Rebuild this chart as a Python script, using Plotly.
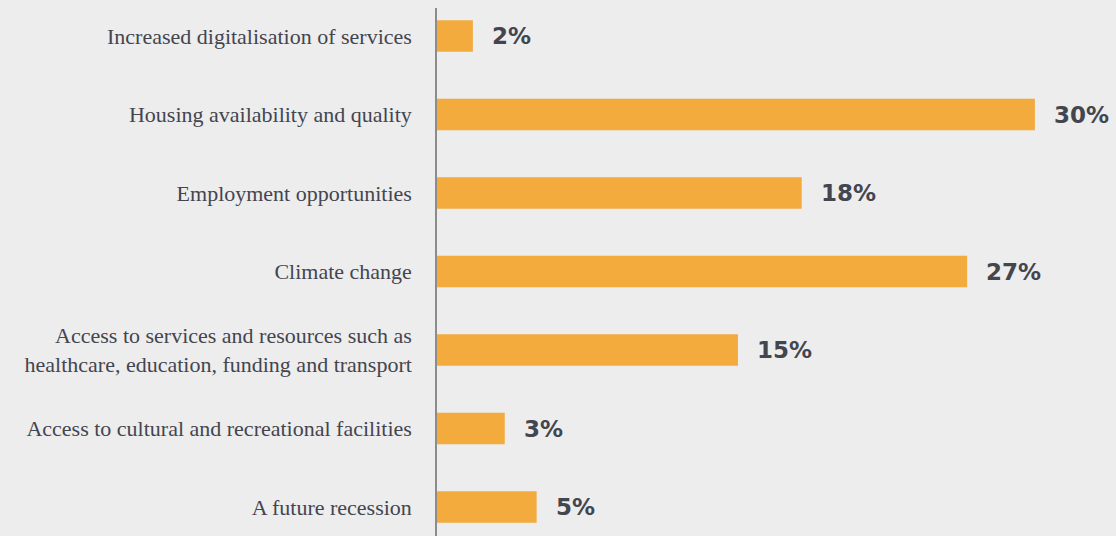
import plotly.graph_objects as go

# top-to-bottom order as shown in the chart
categories = [
    "Increased digitalisation of services",
    "Housing availability and quality",
    "Employment opportunities",
    "Climate change",
    "Access to services and resources such as<br>healthcare, education, funding and transport",
    "Access to cultural and recreational facilities",
    "A future recession",
]
values = [1.8, 30.0, 18.3, 26.6, 15.1, 3.4, 5.0]
value_labels = ["2%", "30%", "18%", "27%", "15%", "3%", "5%"]

BG = "#ededed"
BAR = "#f2ab3c"
TEXT = "#43454f"

# plotly draws categories bottom-up, so reverse
cats = categories[::-1]
vals = values[::-1]
labs = value_labels[::-1]

fig = go.Figure()
fig.add_trace(
    go.Bar(
        x=vals,
        y=cats,
        orientation="h",
        marker={"color": BAR, "line": {"width": 0}},
        width=0.4,
        hoverinfo="skip",
    )
)

for v, c, t in zip(vals, cats, labs):
    fig.add_annotation(
        x=v,
        y=c,
        text=t,
        showarrow=False,
        xanchor="left",
        xshift=17,
        font={"family": "DejaVu Sans", "size": 23, "color": TEXT, "weight": "bold"},
    )

fig.update_xaxes(
    range=[0, 34.07],
    showgrid=False,
    zeroline=False,
    showticklabels=False,
    showline=False,
)
fig.update_yaxes(
    range=[-0.369, 6.357],
    showgrid=False,
    zeroline=False,
    showline=True,
    linecolor="#8c8c8c",
    linewidth=1.5,
    ticks="",
    ticklabelstandoff=19,
    tickfont={"family": "Liberation Serif", "size": 22, "color": TEXT},
)
fig.update_layout(
    width=1116,
    height=536,
    margin={"l": 437, "r": 0, "t": 8, "b": 0},
    paper_bgcolor=BG,
    plot_bgcolor=BG,
    showlegend=False,
)

fig.write_html(
    "out.html",
    config={"displayModeBar": False},
    post_script="document.body.style.margin='0';document.body.style.overflow='hidden';",
)
